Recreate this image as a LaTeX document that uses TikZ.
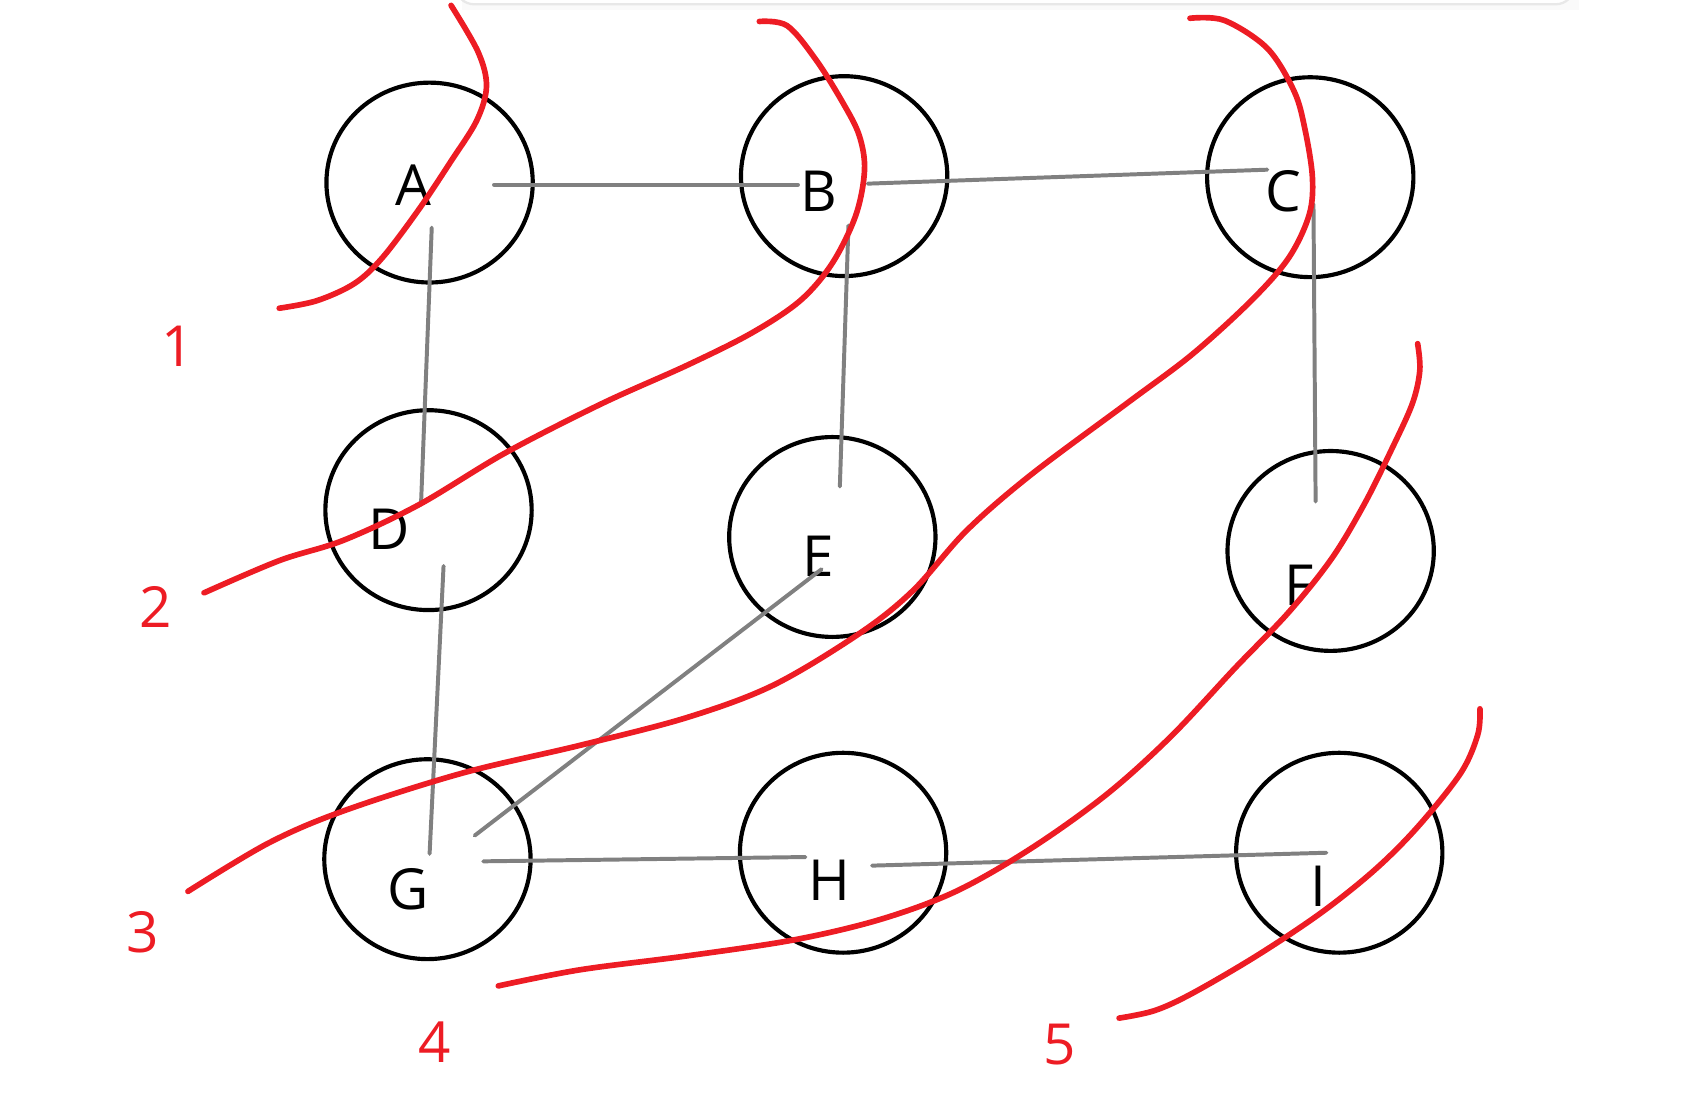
\documentclass[tikz,border=0pt]{standalone}
\usepackage{fontspec}
\setmainfont{Open Sans}
\usepackage{xcolor}
\usetikzlibrary{shapes,calc}
\definecolor{penred}{RGB}{237,28,36}
\definecolor{linegray}{RGB}{128,128,128}

\begin{document}
\begin{tikzpicture}[x=0.01cm,y=-0.01cm,
roundnode/.style={ellipse, draw=black, line width=1.1pt, minimum width=1.92cm, minimum height=1.86cm, inner sep=0pt},
letternode/.style={font=\fontsize{15}{17}\selectfont, inner sep=0pt},
grayline/.style={draw=linegray, line width=1.05pt, line cap=round},
redcurve/.style={draw=penred, line width=1.5pt, line cap=round, line join=round},
numlabel/.style={text=penred, font=\fontsize{15}{17}\selectfont, inner sep=0pt},
]
\useasboundingbox (0,0) rectangle (1568,1021);
%Card edge
\fill[black!2] (430,0) rectangle (1470,9);
\draw[black!9, line width=0.6pt, rounded corners=5pt, fill=white] (424,-30) -- (424,4) -- (1466,4) -- (1466,-30);
%Circles
\node[roundnode](cA) at (400,170){};
\node[roundnode](cB) at (786,164){};
\node[roundnode](cC) at (1220,165){};
\node[roundnode](cD) at (399,475){};
\node[roundnode](cE) at (775,500){};
\node[roundnode](cF) at (1239,513){};
\node[roundnode](cG) at (398,800){};
\node[roundnode](cH) at (785,794){};
\node[roundnode](cI) at (1247,794){};
%Letters
\node[letternode](A) at (385,172){A};
\node[letternode](B) at (762,178){B};
\node[letternode](C) at (1195,178){C};
\node[letternode](D) at (362,493){D};
\node[letternode](E) at (762,518){E};
\node[letternode](F) at (1210,545){F};
\node[letternode](G) at (380,828){G};
\node[letternode](H) at (772,820){H};
\node[letternode](I) at (1228,825){I};
%Links
\draw[grayline] ($(A)+(75,0)$) -- ($(B)+(-19,-6)$);
\draw[grayline] ($(B)+(46,-7)$) -- ($(C)+(-15,-20)$);
\draw[grayline] ($(A)+(17,40)$) -- ($(D)+(30,-23)$);
\draw[grayline] ($(B)+(28,32)$) -- ($(E)+(20,-65)$);
\draw[grayline] ($(C)+(28,12)$) -- ($(F)+(15,-78)$);
\draw[grayline] ($(D)+(51,34)$) -- ($(G)+(20,-33)$);
\draw[grayline] ($(E)+(3,12)$) -- ($(G)+(62,-50)$);
\draw[grayline] ($(G)+(70,-26)$) -- ($(H)+(-22,-22)$);
\draw[grayline] ($(H)+(40,-14)$) -- ($(I)+(7,-31)$);
%Cuts
\draw[redcurve] plot[smooth, tension=0.55] coordinates {(420,5) (445,48) (453,80) (444,112) (420,150) (390,195) (356,240) (330,264) (295,280) (260,287)};
\draw[redcurve] plot[smooth, tension=0.55] coordinates {(707,20) (733,24) (760,56) (785,96) (800,126) (805,158) (797,200) (775,245) (745,280) (700,310) (640,340) (560,376) (470,422) (390,470) (320,503) (260,522) (190,552)};
\draw[redcurve] plot[smooth, tension=0.55] coordinates {(1108,17) (1140,19) (1180,45) (1205,85) (1215,120) (1222,165) (1219,200) (1200,240) (1165,280) (1110,330) (1050,375) (960,442) (900,494) (850,550) (800,590) (720,638) (640,668) (540,694) (430,720) (320,755) (250,785) (175,830)};
\draw[redcurve] plot[smooth, tension=0.55] coordinates {(1320,320) (1322,345) (1315,376) (1295,420) (1270,470) (1240,520) (1200,570) (1150,622) (1090,686) (1030,740) (960,790) (890,830) (820,856) (740,875) (640,890) (540,903) (464,918)};
\draw[redcurve] plot[smooth, tension=0.55] coordinates {(1378,660) (1376,684) (1360,720) (1320,770) (1280,810) (1230,850) (1170,890) (1110,925) (1075,941) (1042,948)};
%Numbers
\node[numlabel](n1) at (165,322){1};
\node[numlabel](n2) at (145,565){2};
\node[numlabel](n3) at (133,868){3};
\node[numlabel](n4) at (405,970){4};
\node[numlabel](n5) at (987,973){5};
\end{tikzpicture}
\end{document}
